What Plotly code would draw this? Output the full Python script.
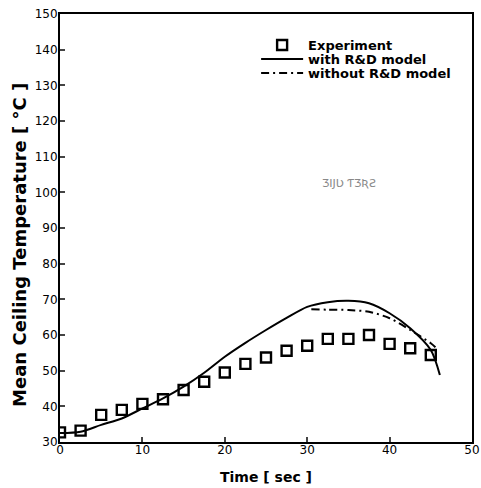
import plotly.graph_objects as go

# Experiment data
exp_t = [0, 2.5, 5, 7.5, 10, 12.5, 15, 17.5, 20, 22.5, 25, 27.5, 30, 32.5, 35, 37.5, 40, 42.5, 45]
exp_T = [32.7, 33.2, 37.6, 39.0, 40.7, 42.0, 44.6, 46.9, 49.5, 51.9, 53.7, 55.6, 57.0, 58.9, 58.9, 60.0, 57.5, 56.3, 54.4]

# With R&D model
rd_t = [0, 2.5, 5, 7.5, 10, 12.5, 15, 17.5, 20, 22.5, 25, 27.5, 30, 32.5, 35, 37.5, 40, 42.5, 45, 46.1]
rd_T = [32.5, 32.9, 34.8, 36.6, 39.4, 42.2, 45.5, 49.4, 53.9, 57.8, 61.4, 64.8, 67.9, 69.2, 69.6, 68.9, 66.1, 61.9, 55.8, 48.8]

# Without R&D model (diverging part)
nrd_t = [30.5, 32.5, 35, 37.5, 40, 42.5, 45, 45.7]
nrd_T = [67.2, 67.1, 67.0, 66.5, 64.7, 61.4, 57.7, 56.3]

x_ticks = [0, 10, 20, 30, 40, 50]
y_ticks = [30, 40, 50, 60, 70, 80, 90, 100, 110, 120, 130, 140, 150]

FONT = "DejaVu Sans, sans-serif"

fig = go.Figure()
fig.add_trace(go.Scatter(
    x=exp_t, y=exp_T, mode="markers", name="<b>Experiment</b>", legend="legend",
    marker=dict(symbol="square-open", size=10, color="black", line=dict(width=2.4, color="black")),
))
fig.add_trace(go.Scatter(
    x=rd_t, y=rd_T, mode="lines", name="<b>with R&D model</b>", legend="legend2",
    line=dict(color="black", width=2, shape="spline", smoothing=0.8),
))
fig.add_trace(go.Scatter(
    x=nrd_t, y=nrd_T, mode="lines", name="<b>without R&D model</b>", legend="legend3",
    line=dict(color="black", width=2, dash="8px,4px,2px,4px", shape="spline", smoothing=0.8),
))

fig.add_annotation(x=35.1, y=102.6, text="ƷIJƲ ƬƷƦƧ", showarrow=False,
                   font=dict(family=FONT, size=11, color="#888888"))

# Y axis title as rotated text
fig.add_annotation(xref="paper", yref="paper", x=-0.1, y=0.46, textangle=-90,
                   xanchor="center", yanchor="middle",
                   text="<b>Mean Ceiling Temperature [ °C ]</b>", showarrow=False,
                   font=dict(family=FONT, size=18, color="black"))

leg_common = dict(x=0.476, xanchor="left", yanchor="middle", bgcolor="rgba(0,0,0,0)",
                  font=dict(family=FONT, size=13, color="black"), itemwidth=42)

fig.update_layout(
    width=481, height=488,
    margin=dict(l=60, r=9, t=14, b=46),
    paper_bgcolor="white", plot_bgcolor="white",
    font=dict(family=FONT, color="black", size=12),
    legend=dict(y=0.9276, **leg_common),
    legend2=dict(y=0.8949, **leg_common),
    legend3=dict(y=0.8621, **leg_common),
    showlegend=True,
)
fig.update_xaxes(
    range=[0, 50], tickvals=x_ticks, ticks="inside", ticklen=5, tickwidth=2,
    showline=True, linewidth=2, linecolor="black", mirror=True, showgrid=False, zeroline=False,
    tickfont=dict(family=FONT, size=12, color="black"), ticklabelstandoff=-4,
    title=dict(text="<b>Time [ sec ]</b>", font=dict(family=FONT, size=14), standoff=16),
    automargin=False,
)
fig.update_yaxes(
    range=[30, 150], tickvals=y_ticks, ticks="inside", ticklen=5, tickwidth=2,
    showline=True, linewidth=2, linecolor="black", mirror=True, showgrid=False, zeroline=False,
    tickfont=dict(family=FONT, size=12, color="black"), ticklabelstandoff=-2,
    automargin=False,
)

fig.write_html("out.html")
